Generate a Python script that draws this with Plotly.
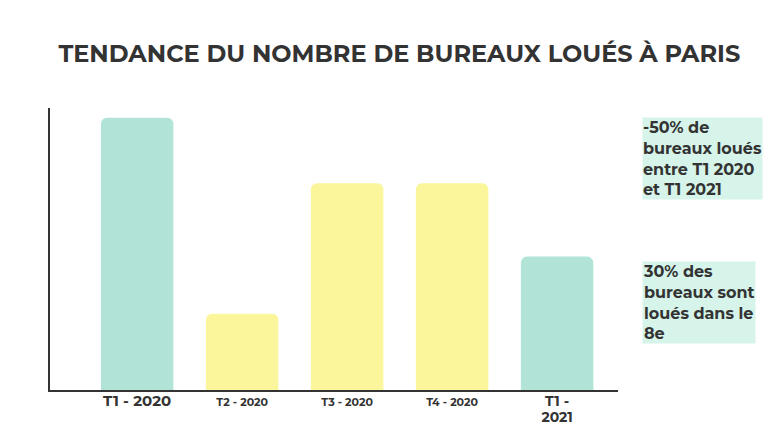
import plotly.graph_objects as go

categories = ["T1 - 2020", "T2 - 2020", "T3 - 2020", "T4 - 2020", "T1 - 2021"]
values = [100, 28, 76, 76, 49]
colors = ["#b1e4d6", "#fbf59c", "#fbf59c", "#fbf59c", "#b1e4d6"]
tick_labels = [
    "<b><span style='font-size:15px'>T1 - 2020</span></b>",
    "<b><span style='font-size:11px'>T2 - 2020</span></b>",
    "<b><span style='font-size:11px'>T3 - 2020</span></b>",
    "<b><span style='font-size:11px'>T4 - 2020</span></b>",
    "<b><span style='font-size:14px'>T1 -<br>2021</span></b>",
]

fig = go.Figure(go.Bar(x=categories, y=values, marker=dict(color=colors, cornerradius=6, line_width=0), width=0.69))
fig.update_layout(
    width=776, height=430, plot_bgcolor="white", paper_bgcolor="white",
    margin=dict(l=42, r=166, t=100, b=42), showlegend=False,
    font=dict(family="Montserrat, Lato, sans-serif", color="#333"),
    title=dict(text="<b>TENDANCE DU NOMBRE DE BUREAUX LOUÉS À PARIS</b>", x=0.065, xanchor="left",
               yref="container", y=0.895, yanchor="middle",
               font=dict(size=24, color="#333", family="Montserrat, Lato, sans-serif")),
)
fig.update_xaxes(tickvals=categories, ticktext=tick_labels, range=[-0.83, 4.58], showline=True,
                 linecolor="#333", linewidth=1.5, ticks="", tickfont=dict(color="#333"))
fig.update_yaxes(range=[0, 103.6], showticklabels=False, showgrid=False, showline=True, linecolor="#333", linewidth=1.5, zeroline=False)
for txt, y in [("-50% de<br>bureaux loués<br>entre T1 2020<br>et T1 2021", 0.82), ("30% des<br>bureaux sont<br>loués dans le<br>8e", 0.31)]:
    fig.add_annotation(text="<b>" + txt + "</b>", xref="paper", yref="paper", x=1.042, y=y, xanchor="left", yanchor="middle",
                       showarrow=False, align="left", bgcolor="#d6f4ea", borderpad=0, font=dict(size=16, color="#333"))
fig.write_html("out.html")
